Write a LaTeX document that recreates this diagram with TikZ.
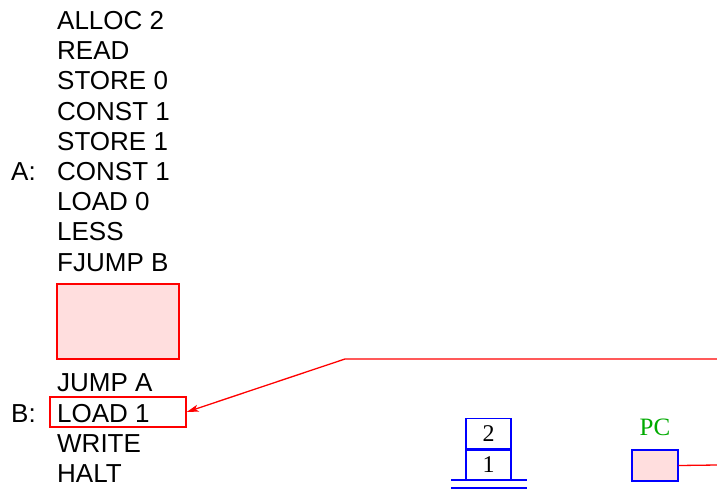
\documentclass[tikz,border=0pt]{standalone}
\usepackage{fontspec}
\setmainfont{Liberation Sans}
\newfontfamily\serifnum{Liberation Serif}
\usetikzlibrary{arrows.meta}
\definecolor{pinkfill}{RGB}{255,222,222}
\definecolor{pcgreen}{RGB}{0,170,0}
\tikzset{
  instr/.style={anchor=base west, inner sep=0pt, font=\fontsize{26}{26}\selectfont},
  redbox/.style={draw=red, fill=pinkfill, line width=1.3pt},
  stackcell/.style={draw=blue, line width=1.3pt, minimum width=45pt, minimum height=30pt, inner sep=0pt, font=\serifnum\fontsize{24}{24}\selectfont},
  redline/.style={draw=red, line width=1.3pt},
}
\begin{document}
\begin{tikzpicture}[x=1pt,y=-1pt]
\useasboundingbox (0,0) rectangle (717,493);
% program
\node[instr] (i1) at (57,29) {ALLOC 2};
\node[instr] (i2) at (57,59) {READ};
\node[instr] (i3) at (57,89) {STORE 0};
\node[instr] (i4) at (57,120) {CONST 1};
\node[instr] (i5) at (57,150) {STORE 1};
\node[instr] (i6) at (57,180) {CONST 1};
\node[instr] (i7) at (57,210) {LOAD 0};
\node[instr] (i8) at (57,240) {LESS};
\node[instr] (i9) at (57,271) {FJUMP B};
\node[instr] (i10) at (57,391) {JUMP A};
\node[instr] (i11) at (57,422) {LOAD 1};
\node[instr] (i12) at (57,452) {WRITE};
\node[instr] (i13) at (57,482) {HALT};
\node[instr] (la) at (11,180) {A:};
\node[instr] (lb) at (11,422) {B:};
% placeholder box
\draw[redbox] (57,284) rectangle (179,359);
% highlight box around LOAD 1
\node[draw=red, line width=1.3pt, inner sep=0pt, minimum width=136pt, minimum height=30pt] (hl) at (118,412) {};
% arrow
\coordinate (rs) at (717,359);
\coordinate (bend) at (345,359);
\draw[redline, -{Stealth[length=12pt,width=7pt,inset=3pt]}] (rs) -- (bend) -- (hl.east);
% stack
\node[stackcell] (s1) at (488.5,465) {1};
\node[stackcell, anchor=south] (s2) at (s1.north) {2};
\coordinate (b1l) at (451,480); \coordinate (b1r) at (527,480);
\coordinate (b2l) at (451,488); \coordinate (b2r) at (527,488);
\draw[blue, line width=1.3pt] (b1l) -- (b1r) (b2l) -- (b2r);
% PC
\node[draw=blue, fill=pinkfill, line width=1.3pt, minimum width=46pt, minimum height=31pt, inner sep=0pt] (pc) at (655,465.5) {};
\node[text=pcgreen, font=\serifnum\fontsize{25}{25}\selectfont, anchor=base, inner sep=0pt] (pclabel) at (655,435.5) {PC};
\coordinate (pce) at (717,465);
\draw[redline] (pc.east) -- (pce);
\end{tikzpicture}
\end{document}
